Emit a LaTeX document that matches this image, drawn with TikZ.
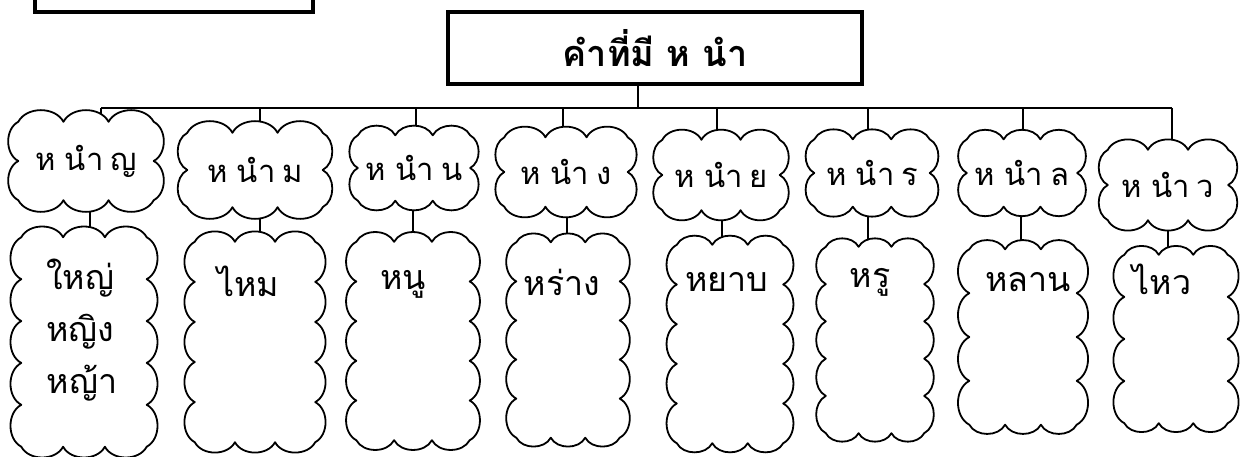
\documentclass[tikz,border=0pt]{standalone}
\usepackage{fontspec}
\newfontfamily\thaifont[Script=Thai]{Loma}
\usetikzlibrary{calc}
\pgfdeclarelayer{back}
\pgfdeclarelayer{bg}
\pgfdeclarelayer{puff}
\pgfsetlayers{back,bg,puff,main}
\newcommand\puffbox[3]{%
  \filldraw[cloudline] (#1.north west)
   \foreach \k in {1,...,#2}{ to[bend left=62] ($(#1.north west)!\k/#2!(#1.north east)$) }
   \foreach \k in {1,...,#3}{ to[bend left=62] ($(#1.north east)!\k/#3!(#1.south east)$) }
   \foreach \k in {1,...,#2}{ to[bend left=62] ($(#1.south east)!\k/#2!(#1.south west)$) }
   \foreach \k in {1,...,#3}{ to[bend left=62] ($(#1.south west)!\k/#3!(#1.north west)$) };}
\newcommand\hlead[1]{ห\hspace{0.3em}นำ\hspace{0.22em}#1}
\begin{document}
\begin{tikzpicture}[x=1pt,y=-1pt,
  font=\thaifont\fontsize{34}{38}\selectfont,
  cloudline/.style={draw, line width=1.8pt, fill=white, line join=round},
  cbox/.style={rectangle, inner sep=0pt},
  tlabel/.style={cbox, font=\thaifont\fontsize{31}{35}\selectfont},
  word/.style={inner sep=0pt},
  conn/.style={line width=1.6pt},
  titlebox/.style={draw, line width=4pt, inner sep=0pt}]
\clip (0,0) rectangle (1245,457);
\begin{pgfonlayer}{back}
\fill[white] (0,0) rectangle (1245,457);
\end{pgfonlayer}
% partial box top-left
\node[titlebox, minimum width=278, minimum height=50] (corner) at (174,-13) {};
% main box
\node[titlebox, minimum width=414, minimum height=72, font=\thaifont\bfseries\fontsize{36}{40}\selectfont] (main) at (655,48.5) {คำที่มี ห นำ};
% top clouds
\node[tlabel, minimum width=135, minimum height=78] (t1) at (86,161) {\hlead{ญ}};
\node[tlabel, minimum width=135, minimum height=74] (t2) at (255,170) {\hlead{ม}};
\node[tlabel, minimum width=112, minimum height=65] (t3) at (414,168) {\hlead{น}};
\node[tlabel, minimum width=123, minimum height=69] (t4) at (566,172) {\hlead{ง}};
\node[tlabel, minimum width=117, minimum height=70] (t5) at (721,175) {\hlead{ย}};
\node[tlabel, minimum width=115, minimum height=67] (t6) at (872,173) {\hlead{ร}};
\node[tlabel, minimum width=110, minimum height=67] (t7) at (1022,173) {\hlead{ล}};
\node[tlabel, minimum width=120, minimum height=70] (t8) at (1168,185) {\hlead{ว}};
% bottom clouds
\node[cbox, minimum width=125, minimum height=209] (b1) at (84,342) {};
\node[cbox, minimum width=120, minimum height=200] (b2) at (255,342) {};
\node[cbox, minimum width=113, minimum height=198] (b3) at (413,341) {};
\node[cbox, minimum width=103, minimum height=195] (b4) at (568,340) {};
\node[cbox, minimum width=106, minimum height=198] (b5) at (730,344) {};
\node[cbox, minimum width=98, minimum height=186] (b6) at (875,340) {};
\node[cbox, minimum width=107, minimum height=175] (b7) at (1023,337) {};
\node[cbox, minimum width=103, minimum height=168] (b8) at (1176,339) {};
% words
\node[word] (w1a) at (80,278) {ใหญ่};
\node[word] (w1b) at (80,332) {หญิง};
\node[word] (w1c) at (82,383) {หญ้า};
\node[word] (w2) at (248,281) {ไหม};
\node[word] (w3) at (403,284) {หนู};
\node[word] (w4) at (562,282) {หร่าง};
\node[word] (w5) at (727,282) {หยาบ};
\node[word] (w6) at (870,282) {หรู};
\node[word] (w7) at (1028,282) {หลาน};
\node[word] (w8) at (1162,279) {ไหว};
% cloud outlines
\begin{pgfonlayer}{puff}
\puffbox{t1}{3}{2}
\puffbox{t2}{3}{2}
\puffbox{t3}{3}{2}
\puffbox{t4}{3}{2}
\puffbox{t5}{3}{2}
\puffbox{t6}{3}{2}
\puffbox{t7}{3}{2}
\puffbox{t8}{3}{2}
\puffbox{b1}{3}{5}
\puffbox{b2}{3}{5}
\puffbox{b3}{3}{5}
\puffbox{b4}{3}{5}
\puffbox{b5}{3}{5}
\puffbox{b6}{3}{5}
\puffbox{b7}{3}{4}
\puffbox{b8}{3}{4}
\end{pgfonlayer}
% connectors
\coordinate (stem) at (638,108);
\coordinate (k1) at (101,108);
\coordinate (k2) at (260,108);
\coordinate (k3) at (416,108);
\coordinate (k4) at (563,108);
\coordinate (k5) at (717,108);
\coordinate (k6) at (868,108);
\coordinate (k7) at (1023,108);
\coordinate (k8) at (1172,108);
\coordinate (c1) at (90,0);
\coordinate (c2) at (260,0);
\coordinate (c3) at (413,0);
\coordinate (c4) at (567,0);
\coordinate (c5) at (722,0);
\coordinate (c6) at (868,0);
\coordinate (c7) at (1021,0);
\coordinate (c8) at (1168,0);
\begin{pgfonlayer}{bg}
\draw[conn] (main.south -| stem) -- (stem);
\draw[conn] (k1) -- (k8);
\foreach \i in {1,...,8}{
  \draw[conn] (k\i) -- (k\i |- t\i.center);
  \draw[conn] (t\i.center -| c\i) -- (b\i.center -| c\i);
}
\end{pgfonlayer}
\end{tikzpicture}
\end{document}
